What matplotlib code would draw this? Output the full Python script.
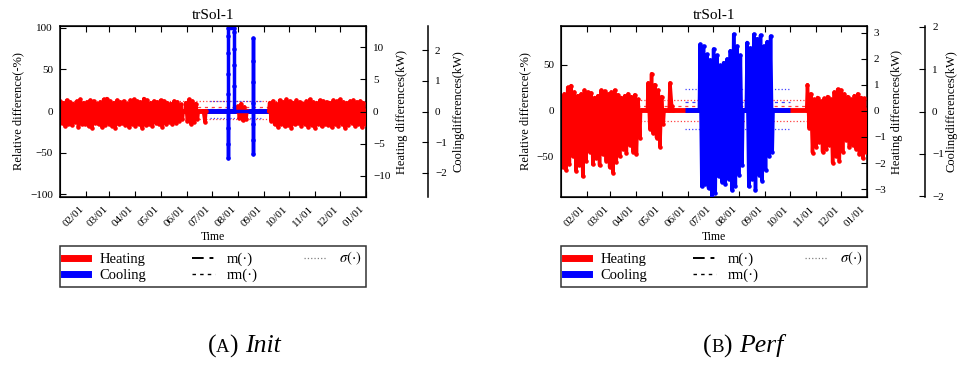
import datetime as dt

import matplotlib
matplotlib.use('Agg')
import matplotlib.dates as mdates
import matplotlib.pyplot as plt
import numpy as np
from matplotlib.lines import Line2D
from matplotlib.offsetbox import AnchoredOffsetbox, HPacker, TextArea

plt.rcParams['font.family'] = ['Liberation Serif', 'DejaVu Serif']
plt.rcParams['mathtext.fontset'] = 'stix'

YEAR = 2014
STEP = 4  # days between two envelope readings (hi at d, lo at d + STEP/2)

# ---- (A) Init : relative differences (%) ----
init_heat_a_start = 0
init_heat_a_hi = [12, 10, 13, 11, 9, 12, 14, 10, 11, 13, 12, 9, 11, 14, 15, 12, 10, 13, 11, 12,
                  9, 13, 14, 12, 11, 15, 13, 10, 12, 11, 13, 12, 10, 9, 12, 11, 8]
init_heat_a_lo = [-14, -18, -15, -17, -13, -19, -16, -15, -18, -20, -14, -16, -19, -17, -15, -18,
                  -20, -16, -14, -17, -19, -15, -18, -16, -20, -17, -15, -18, -14, -16, -19, -15,
                  -13, -16, -14, -12, -10]
init_heat_b_start = 150
init_heat_b_hi = [10, 14, 12, 9]
init_heat_b_lo = [-12, -15, -13, -10]
init_heat_c_start = 171
init_heat_c_hi = [0]
init_heat_c_lo = [-13]
init_heat_d_start = 212
init_heat_d_hi = [6, 9, 5]
init_heat_d_lo = [-8, -11, -9]
init_heat_e_start = 250
init_heat_e_hi = [10, 12, 9, 13, 11, 14, 12, 10, 13, 11, 9, 12, 14, 11, 10, 13, 12, 11, 10, 13,
                  12, 14, 11, 10, 12, 13, 11, 12, 10]
init_heat_e_lo = [-12, -16, -19, -15, -18, -17, -20, -16, -14, -18, -15, -19, -17, -20, -16, -18,
                  -15, -17, -19, -16, -18, -15, -20, -17, -14, -18, -16, -19, -15]
init_heat_zero = (146, 250)
init_cool_zero = (173, 250)
init_cool_days = [200, 200, 200, 200, 200, 200, 200, 200, 200, 207, 207, 207, 207, 207, 207,
                  230, 230, 230, 230, 230, 230, 230, 230, 230]
init_cool_vals = [0, -56, -40, -20, 20, 45, 70, 90, 100, 100, 95, 75, 55, 30, 0,
                  0, 88, 60, 35, 10, -15, -35, -51, 0]
# m, rm, sigma, first day, last day
init_heat_stats = (1.5, 4.4, 10.5, 0, 365)
init_cool_stats = (1.8, 3.0, 10.2, 179, 242)

# ---- (B) Perf ----
perf_heat_a_start = 0
perf_heat_a_hi = [15, 18, 25, 27, 20, 16, 18, 22, 20, 19, 14, 16, 22, 21, 18, 20, 22, 17, 14, 16,
                  18, 15, 17, 12]
perf_heat_a_lo = [-62, -65, -58, -50, -66, -60, -72, -55, -45, -59, -52, -60, -48, -55, -62, -68,
                  -56, -50, -42, -46, -38, -45, -48, -30]
perf_heat_b_start = 104
perf_heat_b_hi = [30, 40, 28, 22, 15]
perf_heat_b_lo = [-20, -25, -30, -40, -15]
perf_heat_c_start = 130
perf_heat_c_hi = [30]
perf_heat_c_lo = [5]
perf_heat_d_start = 294
perf_heat_d_hi = [28, 18, 12, 14, 10, 13, 15, 12, 20, 23, 22, 18, 15, 12, 16, 18, 14, 13]
perf_heat_d_lo = [-19, -46, -40, -35, -45, -42, -38, -57, -50, -55, -45, -32, -40, -38, -42,
                  -48, -52, -45]
perf_cool_a_start = 166
perf_cool_a_hi = [72, 70, 61, 55, 67, 60, 49, 52, 56, 65, 83, 70, 60]
perf_cool_a_lo = [-83, -80, -85, -94, -90, -72, -78, -80, -75, -87, -82, -70, -60]
perf_cool_b_start = 222
perf_cool_b_hi = [74, 68, 83, 78, 82, 70, 75, 81]
perf_cool_b_lo = [-83, -75, -87, -70, -77, -65, -50, -45]
perf_heat_zero = (94, 294)
perf_cool_zero = (148, 273)
perf_heat_stats = (-0.5, 5.0, 11.5, 0, 365)
perf_cool_stats = (1.5, 9.0, 21.5, 148, 273)

BASE = mdates.date2num(dt.datetime(YEAR, 1, 1))
MONTH_TICKS = [mdates.date2num(dt.datetime(YEAR, m, 1)) for m in range(2, 13)] + \
              [mdates.date2num(dt.datetime(YEAR + 1, 1, 1))]

RED = '#ff0000'
BLUE = '#0000ff'
M_DASH = (0, (6, 3, 2, 3))
RM_DASH = (0, (2.5, 3))


def band(start, hi, lo):
    days, vals = [start - 1], [0]
    for i, (h, l) in enumerate(zip(hi, lo)):
        days += [start + i * STEP, start + i * STEP + STEP / 2]
        vals += [h, l]
    days.append(days[-1] + 1)
    vals.append(0)
    return list(days), list(vals)


def join(parts):
    xs, ys = [], []
    for d, v in parts:
        xs += d + [np.nan]
        ys += v + [np.nan]
    return BASE + np.array(xs, float), np.array(ys, float)


def plot_stats(ax, stats, color):
    m, rm, sd, a, b = stats
    x = [BASE + a, BASE + b]
    kw = dict(color=color, lw=0.9, alpha=0.75, zorder=1)
    ax.plot(x, [m, m], ls=M_DASH, **kw)
    ax.plot(x, [rm, rm], ls=RM_DASH, **kw)
    ax.plot(x, [m + sd, m + sd], ls=':', **kw)
    ax.plot(x, [m - sd, m - sd], ls=':', **kw)


def draw_panel(fig, rect, heat, cool, heat_zero, cool_zero, heat_stats, cool_stats,
               ylim, yticks, h_lim, h_ticks, c_lim, c_ticks, c_off, c_pad):
    ax = fig.add_axes(rect)

    plot_stats(ax, heat_stats, RED)
    plot_stats(ax, cool_stats, BLUE)

    ax.plot([BASE + heat_zero[0], BASE + heat_zero[1]], [0, 0], color=RED, lw=3.5,
            solid_capstyle='butt', zorder=2)
    ax.plot([BASE + cool_zero[0], BASE + cool_zero[1]], [0, 0], color=BLUE, lw=3.5,
            solid_capstyle='butt', zorder=2)

    hx, hy = join(heat)
    ax.plot(hx, hy, color=RED, lw=2.5, marker='.', ms=4.5, zorder=3)
    cx, cy = join(cool)
    ax.plot(cx, cy, color=BLUE, lw=2.5, marker='.', ms=4.5, zorder=4)

    ax.set_xlim(BASE, BASE + 365)
    ax.set_ylim(*ylim)
    ax.set_yticks(yticks)
    ax.set_xticks(MONTH_TICKS)
    ax.xaxis.set_major_formatter(mdates.DateFormatter('%m/%d'))
    for lab in ax.get_xticklabels():
        lab.set_rotation(45)
        lab.set_ha('right')
    ax.tick_params(direction='in', length=4, top=True, labelsize=8, pad=5)
    ax.set_ylabel('Relative difference(-%)', fontsize=9)
    ax.set_xlabel('Time', fontsize=8.5, labelpad=2)
    ax.set_title('trSol-1', fontsize=11, pad=5)
    for s in ax.spines.values():
        s.set_linewidth(1.1)

    ax2 = ax.twinx()
    ax2.set_ylim(*h_lim)
    ax2.set_yticks(h_ticks)
    ax2.tick_params(direction='in', length=4, labelsize=8, pad=5)
    ax2.set_ylabel('Heating differences(kW)', fontsize=9)

    ax3 = ax.twinx()
    ax3.spines['right'].set_position(('axes', c_off))
    for s in ['top', 'bottom', 'left']:
        ax3.spines[s].set_visible(False)
    ax3.spines['right'].set_linewidth(1.1)
    ax3.patch.set_visible(False)
    ax3.set_ylim(*c_lim)
    ax3.set_yticks(c_ticks)
    ax3.tick_params(direction='in', length=4, labelsize=8, pad=5)
    ax3.set_ylabel('Coolingdifferences(kW)', fontsize=9, labelpad=c_pad)

    handles = [Line2D([], [], color=RED, lw=5),
               Line2D([], [], color=BLUE, lw=5),
               Line2D([], [], color='black', lw=1.4, ls=M_DASH),
               Line2D([], [], color='black', lw=1.0, ls=RM_DASH),
               Line2D([], [], color='gray', lw=0.9, ls=':')]
    labels = ['Heating', 'Cooling', 'm(·)', 'rm(·)', r'$\sigma(\cdot)$']
    leg = ax.legend(handles, labels, ncol=3, loc='upper left', mode='expand',
                    bbox_to_anchor=(0, -0.285, 1, 0.001), fontsize=10.5, frameon=True,
                    fancybox=False, edgecolor='black', handlelength=1.6, handletextpad=0.8,
                    borderaxespad=0, labelspacing=0.2, borderpad=0.3)
    leg.get_frame().set_linewidth(1.1)
    return ax


def caption(fig, x, y, letter, word):
    parts = [TextArea('(', textprops=dict(fontsize=18.5)),
             TextArea(letter, textprops=dict(fontsize=13.5)),
             TextArea(') ', textprops=dict(fontsize=18.5)),
             TextArea(word, textprops=dict(fontsize=18.5, style='italic'))]
    box = HPacker(children=parts, align='baseline', pad=0, sep=0)
    anchored = AnchoredOffsetbox(loc='center', child=box, pad=0, borderpad=0, frameon=False,
                                 bbox_to_anchor=(x, y), bbox_transform=fig.transFigure)
    fig.add_artist(anchored)


fig = plt.figure(figsize=(9.59, 3.65), dpi=100)

init_heat = [band(init_heat_a_start, init_heat_a_hi, init_heat_a_lo),
             band(init_heat_b_start, init_heat_b_hi, init_heat_b_lo),
             band(init_heat_c_start, init_heat_c_hi, init_heat_c_lo),
             band(init_heat_d_start, init_heat_d_hi, init_heat_d_lo),
             band(init_heat_e_start, init_heat_e_hi, init_heat_e_lo)]
init_cool = [(list(init_cool_days), list(init_cool_vals))]

perf_heat = [band(perf_heat_a_start, perf_heat_a_hi, perf_heat_a_lo),
             band(perf_heat_b_start, perf_heat_b_hi, perf_heat_b_lo),
             band(perf_heat_c_start, perf_heat_c_hi, perf_heat_c_lo),
             band(perf_heat_d_start, perf_heat_d_hi, perf_heat_d_lo)]
perf_cool = [band(perf_cool_a_start, perf_cool_a_hi, perf_cool_a_lo),
             band(perf_cool_b_start, perf_cool_b_hi, perf_cool_b_lo)]

draw_panel(fig, [60 / 959, 168 / 365, 306 / 959, 171 / 365], init_heat, init_cool,
           init_heat_zero, init_cool_zero, init_heat_stats, init_cool_stats,
           (-103, 102), [-100, -50, 0, 50, 100], (-13.3, 13.3), [-10, -5, 0, 5, 10],
           (-2.8, 2.8), [-2, -1, 0, 1, 2], 1.203, 4)

draw_panel(fig, [561 / 959, 168 / 365, 306 / 959, 171 / 365], perf_heat, perf_cool,
           perf_heat_zero, perf_cool_zero, perf_heat_stats, perf_cool_stats,
           (-94.5, 92), [-50, 0, 50], (-3.3, 3.25), [-3, -2, -1, 0, 1, 2, 3],
           (-2.02, 2.02), [-2, -1, 0, 1, 2], 1.19, 1)

caption(fig, 244 / 959, 1 - 346 / 365, 'A', 'Init')
caption(fig, 743 / 959, 1 - 346 / 365, 'B', 'Perf')

fig.savefig('out.png', dpi=100)
